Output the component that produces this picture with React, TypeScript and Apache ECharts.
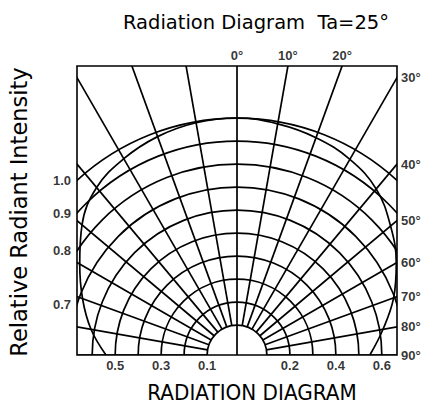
import React, { useEffect, useRef } from "react";
import * as echarts from "echarts";

// ---- texts ----
const chartTitle = "Radiation Diagram  Ta=25°";
const bottomTitle = "RADIATION DIAGRAM";
const sideTitle = "Relative Radiant Intensity";

// ---- grid definition ----
const ringLevels = [0.1, 0.2, 0.3, 0.4, 0.5, 0.6, 0.7, 0.8, 0.9, 1.0];
const rayAngles = [-90, -80, -70, -60, -50, -40, -30, -20, -10, 0, 10, 20, 30, 40, 50, 60, 70, 80, 90];

// ---- tick labels ----
const angleTickLabels = [0, 10, 20, 30, 40, 50, 60, 70, 80, 90];
const baseTicksLeft = [0.5, 0.3, 0.1];
const baseTicksRight = [0.2, 0.4, 0.6];
const sideTicks = [1.0, 0.9, 0.8, 0.7];

// ---- measured radiation pattern ----
const patternAngles = [-90, -80, -70, -60, -50, -40, -30, -20, -10, 0, 10, 20, 30, 40, 50, 60, 70, 80, 90];
const patternIntensity = [0.54, 0.615, 0.685, 0.76, 0.85, 0.92, 0.955, 0.98, 0.995, 1.0, 0.99, 0.975, 0.952, 0.912, 0.842, 0.77, 0.695, 0.615, 0.548];

const RING_OFFSET = 0.03; // distance of intensity 0 from the pole
const X_MIN = -0.696;
const X_MAX = 0.696;
const Y_MAX = 1.256;

const toRad = (d: number) => (d * Math.PI) / 180;
const polarXY = (deg: number, r: number) => [r * Math.sin(toRad(deg)), r * Math.cos(toRad(deg))];

const labelFont = {
  fontFamily: "Liberation Sans",
  fontWeight: "bold" as const,
  color: "#000",
};

export default function App() {
  const ref = useRef<HTMLDivElement>(null);

  useEffect(() => {
    if (!ref.current) return;
    document.body.style.margin = "0";
    const chart = echarts.init(ref.current, undefined, { renderer: "svg" });

    const angleLabelData = angleTickLabels.map((a) => {
      const s = Math.sin(toRad(a));
      const c = Math.cos(toRad(a));
      const tTop = c > 1e-9 ? Y_MAX / c : Infinity;
      const tRight = s > 1e-9 ? X_MAX / s : Infinity;
      const t = Math.min(tTop, tRight);
      const onTop = tTop <= tRight;
      return {
        value: [t * s, Math.max(t * c, 0)],
        name: `${a}°`,
        label: { position: onTop ? "top" : "right", distance: onTop ? 4 : 4 },
      };
    });

    const baseLabelData = [
      ...baseTicksLeft.map((v) => ({ value: [-(v + RING_OFFSET), 0], name: v.toFixed(1) })),
      ...baseTicksRight.map((v) => ({ value: [v + RING_OFFSET, 0], name: v.toFixed(1) })),
    ];

    const sideLabelData = sideTicks.map((v) => {
      const r = v + RING_OFFSET;
      return { value: [X_MIN, Math.sqrt(Math.max(r * r - X_MIN * X_MIN, 0))], name: v.toFixed(1) };
    });

    const patternData = patternAngles.map((a, i) => polarXY(a, patternIntensity[i] + RING_OFFSET));

    const option: any = {
      animation: false,
      grid: {
        left: 77,
        top: 66,
        width: 320,
        height: 289,
        show: true,
        borderColor: "#000",
        borderWidth: 1.6,
        backgroundColor: "transparent",
      },
      xAxis: { type: "value", min: X_MIN, max: X_MAX, show: false },
      yAxis: { type: "value", min: 0, max: Y_MAX, show: false },
      series: [
        {
          type: "custom",
          name: "rings",
          clip: true,
          silent: true,
          data: ringLevels.map((v) => [v, 0]),
          renderItem: (_p: any, api: any) => {
            const v = api.value(0);
            const c = api.coord([0, 0]);
            const r = api.size([v + RING_OFFSET, 0])[0];
            return {
              type: "arc",
              shape: { cx: c[0], cy: c[1], r, startAngle: Math.PI, endAngle: 2 * Math.PI },
              style: { stroke: "#000", fill: "none", lineWidth: 1.7 },
            };
          },
        },
        {
          type: "custom",
          name: "rays",
          clip: true,
          silent: true,
          data: rayAngles.map((a) => [a, 0]),
          renderItem: (_p: any, api: any) => {
            const a = api.value(0);
            const r0 = a === 0 ? 0 : ringLevels[0] + RING_OFFSET;
            const p1 = api.coord(polarXY(a, r0));
            const p2 = api.coord(polarXY(a, 3));
            return {
              type: "line",
              shape: { x1: p1[0], y1: p1[1], x2: p2[0], y2: p2[1] },
              style: { stroke: "#000", lineWidth: 1.7 },
            };
          },
        },
        {
          type: "line",
          name: "pattern",
          data: patternData,
          smooth: 0.4,
          showSymbol: false,
          lineStyle: { color: "#000", width: 1.7 },
          silent: true,
        },
        {
          type: "scatter",
          name: "angleLabels",
          clip: false,
          symbolSize: 0,
          silent: true,
          data: angleLabelData,
          label: { show: true, formatter: "{b}", fontSize: 13, ...labelFont },
        },
        {
          type: "scatter",
          name: "baseLabels",
          clip: false,
          symbolSize: 0,
          silent: true,
          data: baseLabelData,
          label: { show: true, position: "bottom", distance: 4, formatter: "{b}", fontSize: 13, ...labelFont },
        },
        {
          type: "scatter",
          name: "sideLabels",
          clip: false,
          symbolSize: 0,
          silent: true,
          data: sideLabelData,
          label: { show: true, position: "left", distance: 6, formatter: "{b}", fontSize: 13, ...labelFont },
        },
      ],
      graphic: [
        {
          type: "text",
          x: 256,
          y: 22,
          style: {
            text: chartTitle,
            fontFamily: "DejaVu Sans",
            fontSize: 19.5,
            fill: "#000",
            align: "center",
            verticalAlign: "middle",
          },
        },
        {
          type: "text",
          x: 252,
          y: 392,
          scaleY: 1.1,
          style: {
            text: bottomTitle,
            fontFamily: "DejaVu Sans",
            fontSize: 20,
            fill: "#000",
            align: "center",
            verticalAlign: "middle",
          },
        },
        {
          type: "text",
          x: 19,
          y: 212,
          rotation: Math.PI / 2,
          style: {
            text: sideTitle,
            fontFamily: "DejaVu Sans",
            fontSize: 22.5,
            fill: "#000",
            align: "center",
            verticalAlign: "middle",
          },
        },
      ],
    };

    chart.setOption(option);
    return () => chart.dispose();
  }, []);

  return <div ref={ref} style={{ width: 427, height: 405 }} />;
}
